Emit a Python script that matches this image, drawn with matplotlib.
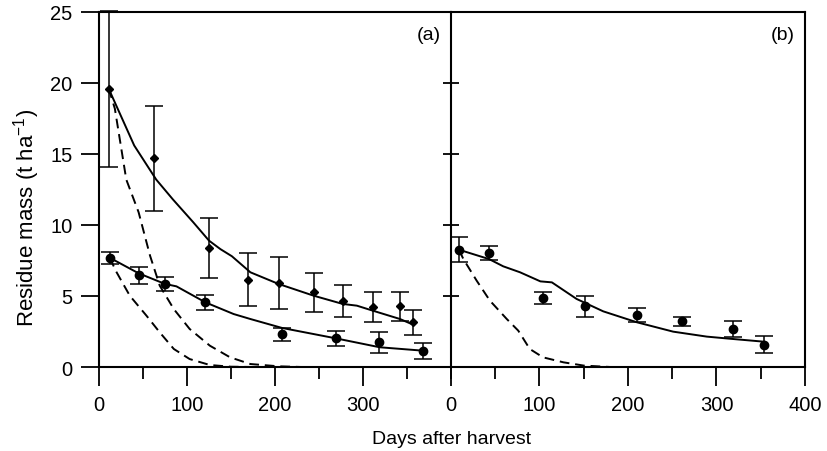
import matplotlib
matplotlib.use("Agg")
import matplotlib.pyplot as plt
from matplotlib.ticker import MultipleLocator

plt.rcParams['font.family'] = ['Liberation Sans', 'DejaVu Sans']
plt.rcParams['mathtext.default'] = 'regular'

# panel (a) - upper series (diamonds)
a_up_day = [11, 62, 125, 169, 204, 244, 277, 311, 342, 357]
a_up_val = [19.6, 14.7, 8.4, 6.15, 5.9, 5.25, 4.65, 4.25, 4.27, 3.15]
a_up_err = [5.5, 3.7, 2.1, 1.85, 1.83, 1.4, 1.15, 1.05, 1.0, 0.87]

# panel (a) - lower series (circles)
a_lo_day = [12, 45, 75, 121, 208, 269, 318, 368]
a_lo_val = [7.7, 6.45, 5.85, 4.55, 2.3, 2.02, 1.74, 1.15]
a_lo_err = [0.43, 0.6, 0.52, 0.52, 0.47, 0.53, 0.73, 0.56]

# panel (a) model curves
a_up_fit_day = [11, 40, 65, 84, 107, 125, 138, 151, 172, 204, 244, 277, 293, 311, 342, 357]
a_up_fit_val = [19.6, 15.6, 13.2, 11.8, 10.2, 8.9, 8.3, 7.8, 6.67, 5.85, 5.02, 4.44, 4.32, 3.97, 3.38, 2.98]
a_lo_fit_day = [12, 45, 75, 88, 121, 153, 172, 208, 269, 319, 368]
a_lo_fit_val = [7.7, 6.6, 5.85, 5.68, 4.55, 3.73, 3.38, 2.75, 2.02, 1.39, 1.15]
a_up_dash_day = [11, 18, 31, 45, 58, 69, 85, 103, 126, 149, 172, 204, 230]
a_up_dash_val = [19.6, 18.2, 13.2, 10.9, 7.84, 5.73, 4.08, 2.68, 1.5, 0.68, 0.21, 0.05, 0.0]
a_lo_dash_day = [12, 20, 35, 54, 69, 85, 103, 126, 150, 175]
a_lo_dash_val = [7.7, 6.67, 5.02, 3.61, 2.44, 1.27, 0.56, 0.14, 0.02, 0.0]

# panel (b) - circles
b_day = [9, 43, 104, 151, 210, 261, 319, 354]
b_val = [8.26, 8.03, 4.86, 4.27, 3.69, 3.22, 2.68, 1.57]
b_err = [0.88, 0.52, 0.43, 0.72, 0.5, 0.3, 0.56, 0.58]

b_fit_day = [9, 43, 59, 78, 101, 114, 142, 172, 210, 251, 289, 319, 354]
b_fit_val = [8.26, 7.6, 7.09, 6.67, 6.03, 5.96, 4.79, 3.92, 3.15, 2.49, 2.14, 1.97, 1.78]
b_dash_day = [9, 14, 29, 44, 63, 76, 89, 104, 127, 150, 180]
b_dash_val = [8.26, 7.6, 6.08, 4.67, 3.38, 2.56, 1.27, 0.68, 0.33, 0.1, 0.0]

fig = plt.figure(figsize=(8.28, 4.52), dpi=100)
axa = fig.add_axes([99/828, 1-368/452, 352/828, 355/452])
axb = fig.add_axes([451/828, 1-368/452, 354/828, 355/452], sharey=axa)

lw = 1.4
eb = dict(fmt='none', ecolor='black', elinewidth=1.1, capsize=6.5, capthick=1.1)

axa.plot(a_up_fit_day, a_up_fit_val, color='black', lw=lw)
axa.plot(a_lo_fit_day, a_lo_fit_val, color='black', lw=lw)
axa.plot(a_up_dash_day, a_up_dash_val, color='black', lw=lw, ls=(0, (5, 3)))
axa.plot(a_lo_dash_day, a_lo_dash_val, color='black', lw=lw, ls=(0, (5, 3)))
axa.errorbar(a_up_day, a_up_val, yerr=a_up_err, clip_on=False, **eb)
axa.errorbar(a_lo_day, a_lo_val, yerr=a_lo_err, **eb)
axa.plot(a_up_day, a_up_val, 'D', color='black', ms=4.5)
axa.plot(a_lo_day, a_lo_val, 'o', color='black', ms=6)

axb.plot(b_fit_day, b_fit_val, color='black', lw=lw)
axb.plot(b_dash_day, b_dash_val, color='black', lw=lw, ls=(0, (5, 3)))
axb.errorbar(b_day, b_val, yerr=b_err, **eb)
axb.plot(b_day, b_val, 'o', color='black', ms=6)

for ax in (axa, axb):
    ax.set_xlim(0, 400)
    ax.set_ylim(0, 25)
    ax.xaxis.set_major_locator(MultipleLocator(100))
    ax.xaxis.set_minor_locator(MultipleLocator(50))
    ax.yaxis.set_major_locator(MultipleLocator(5))
    ax.tick_params(axis='x', which='major', direction='out', length=13.5, width=1.3, pad=7, labelsize=14.5)
    ax.tick_params(axis='x', which='minor', direction='out', length=8.5, width=1.3)
    for s in ax.spines.values():
        s.set_linewidth(1.5)

axa.spines['right'].set_visible(False)
axa.set_xticks([0, 100, 200, 300])
axa.tick_params(axis='y', direction='out', length=13, width=1.3, pad=6, labelsize=14.5)
axb.tick_params(axis='y', direction='inout', length=12, width=1.3, labelleft=False)

axa.text(0.97, 0.96, '(a)', transform=axa.transAxes, ha='right', va='top', fontsize=14)
axb.text(0.97, 0.96, '(b)', transform=axb.transAxes, ha='right', va='top', fontsize=14)

fig.text(452/828, 1-440/452, 'Days after harvest', ha='center', va='center', fontsize=14)
fig.text(27/828, 1-218/452, 'Residue mass (t ha$^{-1}$)', rotation=90, ha='center', va='center', fontsize=16)

fig.savefig('out.png', dpi=100)
